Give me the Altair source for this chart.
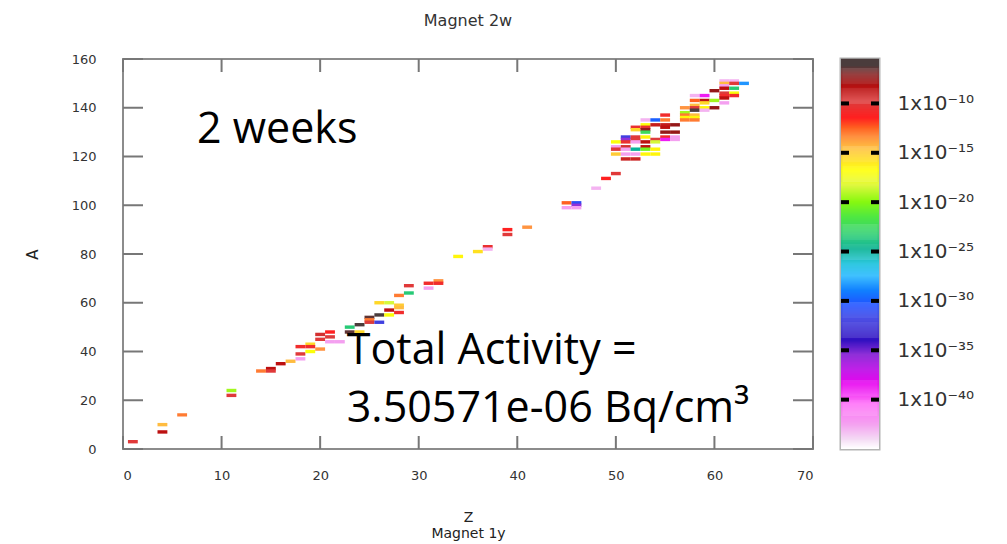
import altair as alt
import pandas as pd

# ---------------- data ----------------
Z = [1, 4, 4, 6, 11, 11, 14, 15, 15, 16, 17, 18, 18, 18, 19, 19, 19, 20, 20, 20,
     21, 21, 21, 22, 23, 23, 24, 24, 25, 25, 25, 26, 26, 26, 27, 27, 27, 28, 28, 28, 28,
     29, 29, 31, 31, 32, 32, 34, 36, 37, 37, 39, 39, 41, 45, 45, 46, 46, 46, 48, 49,
     50, 50, 50, 50, 50,
     51, 51, 51, 51, 51, 51, 51,
     52, 52, 52, 52, 52, 52, 52, 52,
     53, 53, 53, 53, 53, 53, 53, 53, 53, 53,
     54, 54, 54, 54, 54, 54,
     55, 55, 55, 55, 55, 55, 55,
     56, 56, 56, 56,
     57, 57, 57, 57, 57,
     58, 58, 58, 58, 58, 58, 58, 58,
     59, 59, 59, 59, 59,
     60, 60, 60,
     61, 61, 61, 61, 61, 61, 61, 61,
     62, 62, 62, 62, 62,
     63]
A = [3, 10, 7, 14, 24, 22, 32, 33, 32, 35, 36, 42, 39, 37, 43, 42, 40, 47, 45, 41,
     48, 46, 44, 44, 50, 48, 51, 48, 54, 53, 52, 60, 55, 52, 60, 57, 55, 63, 59, 58, 56,
     67, 64, 68, 66, 69, 68, 79, 81, 83, 82, 90, 88, 91, 101, 99, 101, 100, 99, 107, 111,
     126, 124, 123, 121, 113,
     128, 127, 126, 124, 123, 121, 119,
     132, 131, 128, 127, 126, 123, 121, 119,
     135, 133, 132, 131, 130, 128, 126, 124, 123, 121,
     135, 133, 127, 126, 123, 121,
     137, 135, 133, 132, 130, 128, 127,
     133, 130, 128, 127,
     140, 138, 137, 136, 135,
     145, 143, 141, 140, 139, 137, 136, 135,
     145, 143, 142, 140, 139,
     147, 143, 140,
     151, 150, 149, 148, 146, 145, 144, 142,
     151, 150, 148, 146, 145,
     150]
# log10 of activity (Bq/cm3)
LOG_ACT = [-10, -14.5, -8.7, -13, -19.5, -10, -13, -8.7, -10, -8.7, -14.5, -10.8, -10, -42.5, -15.5, -10.8, -17, -9.5, -10, -13.5,
           -11.5, -9.8, -42.5, -42.5, -23.5, -6.5, -5.9, -15.5, -6.5, -13, -9.8, -15.5, -6.2, -32, -18.5, -8.7, -17, -13, -15, -14.5, -10.8,
           -10, -23.5, -10.8, -42.5, -13.5, -10.8, -16.5, -15.8, -10.5, -43, -11.5, -10, -13.5, -12.5, -42.5, -31, -35.5, -42.5, -43, -11.5,
           -17, -42.5, -10, -15, -10,
           -32, -35.5, -10.5, -9.5, -42.5, -42.5, -9.2,
           -10.5, -15.5, -10, -10, -42.5, -25, -42.5, -9.2,
           -43, -17, -10.5, -7.5, -22.5, -16.5, -8.7, -8.7, -20.5, -16.5,
           -30, -9, -9.8, -18.5, -16.5, -16.5,
           -10.8, -13, -9, -8.7, -7.5, -10.8, -39,
           -7.5, -7.5, -42.5, -42.5,
           -13.5, -19.5, -13, -16.5, -13,
           -43, -12.5, -14.5, -10, -6.2, -14.5, -16.5, -13,
           -39, -8.7, -15.5, -16.5, -43,
           -7.5, -19.5, -7.5,
           -43, -14.5, -42.5, -8.7, -9.8, -10.8, -8.7, -42.5,
           -43, -10, -23.5, -17, -10.8,
           -28.5]

x_ticks = [0, 10, 20, 30, 40, 50, 60, 70]
y_ticks = [0, 20, 40, 60, 80, 100, 120, 140, 160]
cb_tick_values = [-10, -15, -20, -25, -30, -35, -40]
cb_tick_labels = ["1x10⁻¹⁰", "1x10⁻¹⁵", "1x10⁻²⁰", "1x10⁻²⁵", "1x10⁻³⁰", "1x10⁻³⁵", "1x10⁻⁴⁰"]

palette_stops = [-45, -44, -42.5, -40.5, -38.5, -37, -35.5, -34, -32, -30.5, -29, -27.5, -26.3,
                 -24.8, -23.2, -21.5, -20, -18.3, -16.8, -15.8, -14.6, -13.4, -12.5, -11.5,
                 -9.8, -8.3, -7.1, -6.2, -5.5]
palette_colors = ["#ffffff", "#f4d8f4", "#f4a0f0", "#ff70f8", "#e800f0", "#c020e8", "#9030d8",
                  "#3010c0", "#4040e0", "#2050ff", "#1080ff", "#40c0ff", "#30c8e0", "#00b090",
                  "#30d070", "#50e840", "#88f810", "#e0f840", "#ffff00", "#ffe020", "#ffc040",
                  "#ff9040", "#ff6020", "#ff2020", "#dc3c3c", "#b00000", "#882424", "#4a3c3c",
                  "#4a3c3c"]

ann_text = ["2 weeks", "Total Activity =", "3.50571e-06 Bq/cm³"]
ann_z = [7.5, 22.7, 22.7]
ann_a = [125.7, 35.0, 11.1]

# ---------------- chart ----------------
W, H = 690, 390
CBW = 38

cells = pd.DataFrame({"Z": Z, "A": A, "logact": LOG_ACT})
xt = pd.DataFrame({"t": x_ticks})
yt = pd.DataFrame({"t": y_ticks})
ann = pd.DataFrame({"text": ann_text, "Z": ann_z, "A": ann_a})
cbt = pd.DataFrame({"v": cb_tick_values})

color_scale = alt.Scale(domain=palette_stops, range=palette_colors, interpolate="rgb", clamp=True)
xs = alt.Scale(domain=[0, 70], nice=False, zero=False)
ys = alt.Scale(domain=[0, 160], nice=False, zero=False)
cbs = alt.Scale(domain=[-45, -5.5], nice=False, zero=False)

FONT = "DejaVu Sans"

x_axis = alt.Axis(
    values=x_ticks, title=["Z", "Magnet 1y"], ticks=False, domain=False, grid=False,
    labelPadding=20, labelFont=FONT, labelFontSize=13, labelColor="#333",
    titleFont=FONT, titleFontSize=14, titleFontWeight="normal", titleColor="#222",
    titleLineHeight=16, titlePadding=28)
y_axis = alt.Axis(
    values=y_ticks, title="A", ticks=False, domain=False, grid=False,
    labelPadding=27, labelFont=FONT, labelFontSize=13, labelColor="#333",
    titleFont=FONT, titleFontSize=15, titleFontWeight="normal", titleColor="#222",
    titleAngle=-90, titleX=-91, titleY=195, titleAlign="center", titleBaseline="middle")

rects = alt.Chart(cells).transform_calculate(
    z0="datum.Z - 0.5", z1="datum.Z + 0.5", a0="datum.A - 0.7", a1="datum.A + 0.7"
).mark_rect(strokeWidth=0).encode(
    x=alt.X("z0:Q", scale=xs, axis=x_axis),
    x2="z1:Q",
    y=alt.Y("a0:Q", scale=ys, axis=y_axis),
    y2="a1:Q",
    color=alt.Color("logact:Q", scale=color_scale, legend=None),
)

tick_style = dict(color="#777777", strokeWidth=2)
t_bottom = alt.Chart(xt).mark_rule(**tick_style).encode(
    x=alt.X("t:Q", scale=xs, axis=x_axis), y=alt.value(H), y2=alt.value(H - 13))
t_top = alt.Chart(xt).mark_rule(**tick_style).encode(
    x=alt.X("t:Q", scale=xs, axis=x_axis), y=alt.value(0), y2=alt.value(13))
t_left = alt.Chart(yt).mark_rule(**tick_style).encode(
    y=alt.Y("t:Q", scale=ys, axis=y_axis), x=alt.value(0), x2=alt.value(20))
t_right = alt.Chart(yt).mark_rule(**tick_style).encode(
    y=alt.Y("t:Q", scale=ys, axis=y_axis), x=alt.value(W), x2=alt.value(W - 20))

texts = alt.Chart(ann).mark_text(
    align="left", baseline="alphabetic", font="Open Sans", fontSize=43, color="black"
).encode(
    x=alt.X("Z:Q", scale=xs, axis=x_axis),
    y=alt.Y("A:Q", scale=ys, axis=y_axis),
    text="text:N",
)

main = alt.layer(rects, t_bottom, t_top, t_left, t_right, texts).properties(
    width=W, height=H,
    title=alt.TitleParams("Magnet 2w", font=FONT, fontSize=16, fontWeight="normal",
                          color="#333", anchor="middle", offset=24),
    view=alt.ViewBackground(stroke="#8c8c8c", strokeWidth=2),
)

label_expr = " : ".join(
    f"datum.value == {v} ? '{lab}'" for v, lab in zip(cb_tick_values, cb_tick_labels)
) + " : ''"

cb_axis = alt.Axis(
    orient="right", values=cb_tick_values, labelExpr=label_expr, ticks=False,
    domain=False, grid=False, title=None, labelPadding=18, labelFont=FONT,
    labelFontSize=20, labelColor="#333", labelBaseline="middle")

cb_bar = alt.Chart(alt.sequence(-45, -5.5, 0.1, as_="v")).transform_calculate(
    v2="datum.v + 0.13"
).mark_rect(strokeWidth=0).encode(
    y=alt.Y("v:Q", scale=cbs, axis=cb_axis),
    y2="v2:Q",
    x=alt.value(0), x2=alt.value(CBW),
    color=alt.Color("v:Q", scale=color_scale, legend=None),
)
cb_tl = alt.Chart(cbt).mark_rule(color="black", strokeWidth=4).encode(
    y=alt.Y("v:Q", scale=cbs, axis=cb_axis), x=alt.value(0), x2=alt.value(8))
cb_tr = alt.Chart(cbt).mark_rule(color="black", strokeWidth=4).encode(
    y=alt.Y("v:Q", scale=cbs, axis=cb_axis), x=alt.value(CBW - 8), x2=alt.value(CBW))

cbar = alt.layer(cb_bar, cb_tl, cb_tr).properties(
    width=CBW, height=H,
    view=alt.ViewBackground(stroke="#b4b4b4", strokeWidth=3),
)

chart = alt.hconcat(main, cbar, spacing=28, bounds="flush").properties(
    padding={"left": 24, "top": 12, "right": 5, "bottom": 0},
    background="white",
)

chart.save("out.html", embed_options={"renderer": "svg", "actions": False})
